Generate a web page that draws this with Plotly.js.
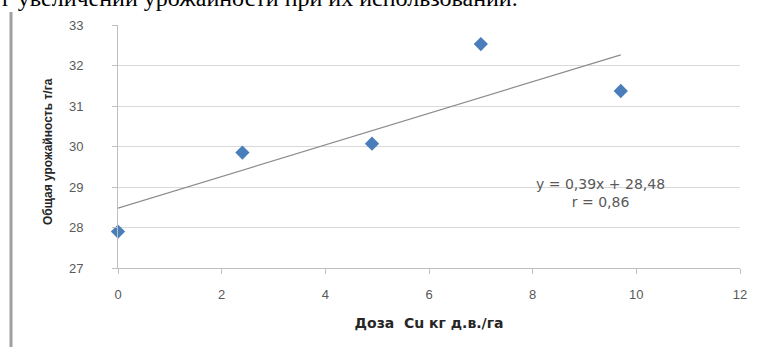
<!DOCTYPE html>
<html>
<head>
<meta charset="utf-8">
<script src="https://cdn.plot.ly/plotly-3.0.1.min.js"></script>
<style>
  html, body { margin: 0; padding: 0; background: #ffffff; }
  #chart { width: 763px; height: 347px; }
</style>
</head>
<body>
<div id="chart"></div>
<script>
// ---- data ----
const doseCu = [0, 2.4, 4.9, 7.0, 9.7];               // Доза Cu, кг д.в./га
const totalYield = [27.9, 29.85, 30.07, 32.53, 31.37]; // Общая урожайность, т/га
const trendSlope = 0.39;
const trendIntercept = 28.48;
const trendX = [0, 9.7];
const xTicks = [0, 2, 4, 6, 8, 10, 12];
const yTicks = [27, 28, 29, 30, 31, 32, 33];
const equationText = "y = 0,39x + 28,48<br>r = 0,86";
const xTitle = "Доза  Cu кг д.в./га";
const yTitle = "Общая урожайность т/га";
const topText = "г увеличении урожайности при их использовании.";

const trendY = trendX.map(function (x) { return trendSlope * x + trendIntercept; });

const traces = [
  {
    x: trendX, y: trendY, type: "scatter", mode: "lines",
    line: { color: "#8c8c8c", width: 1.2 },
    hoverinfo: "skip", showlegend: false
  },
  {
    x: doseCu, y: totalYield, type: "scatter", mode: "markers",
    marker: { symbol: "diamond", size: 11, color: "#4a7ebb" },
    cliponaxis: false, showlegend: false
  }
];

const layout = {
  width: 763, height: 347,
  margin: { l: 118, r: 23, t: 25, b: 79, pad: 0 },
  paper_bgcolor: "#ffffff", plot_bgcolor: "#ffffff",
  showlegend: false,
  font: { family: "Liberation Sans, Arial, sans-serif", size: 12, color: "#595959" },
  xaxis: {
    range: [0, 12], tickvals: xTicks, ticktext: xTicks.map(String),
    showgrid: false, zeroline: false,
    showline: true, linecolor: "#bfbfbf", linewidth: 1,
    ticks: "outside", ticklen: 5, tickcolor: "#bfbfbf",
    ticklabelstandoff: 9,
    tickfont: { family: "Liberation Sans, Arial, sans-serif", size: 13, color: "#595959" },
    title: { text: xTitle, standoff: 17,
             font: { family: "DejaVu Sans, sans-serif", size: 14, color: "#262626", weight: "bold" } }
  },
  yaxis: {
    range: [27, 33], tickvals: yTicks, ticktext: yTicks.map(String),
    showgrid: true, gridcolor: "#d9d9d9", gridwidth: 1, zeroline: false,
    showline: true, linecolor: "#bfbfbf", linewidth: 1,
    ticks: "outside", ticklen: 5, tickcolor: "#bfbfbf",
    ticklabelstandoff: 26,
    tickfont: { family: "Liberation Sans, Arial, sans-serif", size: 13, color: "#595959" }
  },
  annotations: [
    {
      xref: "x", yref: "y", x: 9.3, y: 28.86,
      text: equationText, showarrow: false, align: "center",
      xanchor: "center", yanchor: "middle",
      font: { family: "DejaVu Sans, sans-serif", size: 14, color: "#595959" }
    },
    {
      xref: "paper", yref: "paper", x: (48 - 118) / 622, y: (268 - 152) / 243,
      text: yTitle, showarrow: false, textangle: -90,
      xanchor: "center", yanchor: "middle",
      font: { family: "Liberation Sans, Arial, sans-serif", size: 12, color: "#262626", weight: "bold" }
    },
    {
      xref: "paper", yref: "paper", x: -0.19, y: 1.048,
      text: topText, showarrow: false, xanchor: "left", yanchor: "bottom",
      font: { family: "Liberation Serif, Times New Roman, serif", size: 24, color: "#000000" }
    }
  ],
  shapes: [
    {
      type: "line", xref: "paper", yref: "paper",
      x0: -0.172, x1: -0.172, y0: -0.4, y1: 1.0535,
      line: { color: "#a0a0a0", width: 3 }
    }
  ]
};

Plotly.newPlot("chart", traces, layout, { displayModeBar: false, staticPlot: true });
</script>
</body>
</html>
